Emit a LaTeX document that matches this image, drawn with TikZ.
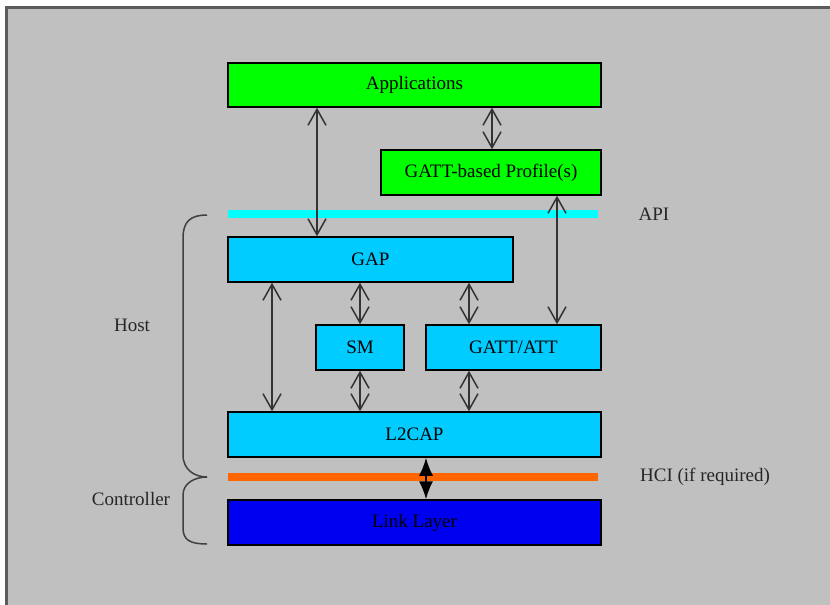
\documentclass[tikz,border=0pt]{standalone}
\usepackage{fontspec}
\setmainfont{Liberation Serif}
\usetikzlibrary{arrows.meta}

\definecolor{bggray}{HTML}{C0C0C0}
\definecolor{framegray}{HTML}{5C5C5C}
\definecolor{appgreen}{HTML}{00FF00}
\definecolor{hostblue}{HTML}{00CCFF}
\definecolor{apicyan}{HTML}{00FFFF}
\definecolor{hciorange}{HTML}{FF6600}
\definecolor{llblue}{HTML}{0000F0}

\tikzset{
  layer/.style={draw=black, line width=1.5pt, minimum height=45pt, inner sep=0pt,
    font=\fontsize{19}{22}\selectfont},
  bar/.style={inner sep=0pt, minimum width=370pt, minimum height=7.5pt},
  side/.style={font=\fontsize{19}{22}\selectfont, text=black!85},
  link/.style={draw=black!80, line width=1.5pt, {Straight Barb[length=16pt,width=18pt]}-{Straight Barb[length=16pt,width=18pt]}},
  hcilink/.style={draw=black, line width=1.5pt, {Latex[length=18pt,width=14pt]}-{Latex[length=18pt,width=14pt]}},
  brace/.style={draw=black!75, line width=1.5pt}
}

\begin{document}
\begin{tikzpicture}[x=1pt, y=-1pt]
  \useasboundingbox (0,0) rectangle (830,605);
  \fill[white] (0,0) rectangle (830,605);
  \fill[bggray] (5,6) rectangle (830,605);
  \draw[framegray, line width=3pt] (6.5,605) -- (6.5,7.5) -- (830,7.5);

  % interface bars
  \node[bar, fill=apicyan] (apibar) at (413,214) {};
  \node[bar, fill=hciorange] (hcibar) at (413,477) {};

  % layers
  \node[layer, fill=appgreen, minimum width=373pt, minimum height=44pt] (apps) at (414.5,85) {Applications};
  \node[layer, fill=appgreen, minimum width=220pt] (profile) at (491,172.5) {GATT-based Profile(s)};
  \node[layer, fill=hostblue, minimum width=285pt] (gap) at (370.5,259.5) {GAP};
  \node[layer, fill=hostblue, minimum width=88pt] (sm) at (360,347.5) {SM};
  \node[layer, fill=hostblue, minimum width=175pt] (gattatt) at (513.5,347.5) {GATT/ATT};
  \node[layer, fill=hostblue, minimum width=373pt] (ltcap) at (414.5,434.5) {L2CAP};
  \node[layer, fill=llblue, minimum width=373pt] (linklayer) at (414.5,522.5) {Link Layer};

  % side labels
  \node[side] (api) at (654,214) {API};
  \node[side] (hci) at (705,477) {HCI (if required)};
  \node[side] (host) at (132,325) {Host};
  \node[side] (ctrl) at (131,499) {Controller};

  % connectors
  \foreach \x/\a/\b in {317/apps/gap, 492/apps/profile, 557/profile/gattatt,
      272/gap/ltcap, 360/gap/sm, 469/gap/gattatt, 360/sm/ltcap, 469/gattatt/ltcap}
    \draw[link] (\x,0 |- \a.south) -- (\x,0 |- \b.north);
  \draw[hcilink] (426,0 |- ltcap.south) -- (426,0 |- linklayer.north);

  % braces
  \draw[brace] (207,215) .. controls (190,215) and (183,222) .. (183,238)
    -- (183,455) .. controls (183,470) and (195,477) .. (207,477);
  \draw[brace] (207,477) .. controls (195,477) and (183,483) .. (183,495)
    -- (183,528) .. controls (183,540) and (190,544) .. (207,544);
\end{tikzpicture}
\end{document}
